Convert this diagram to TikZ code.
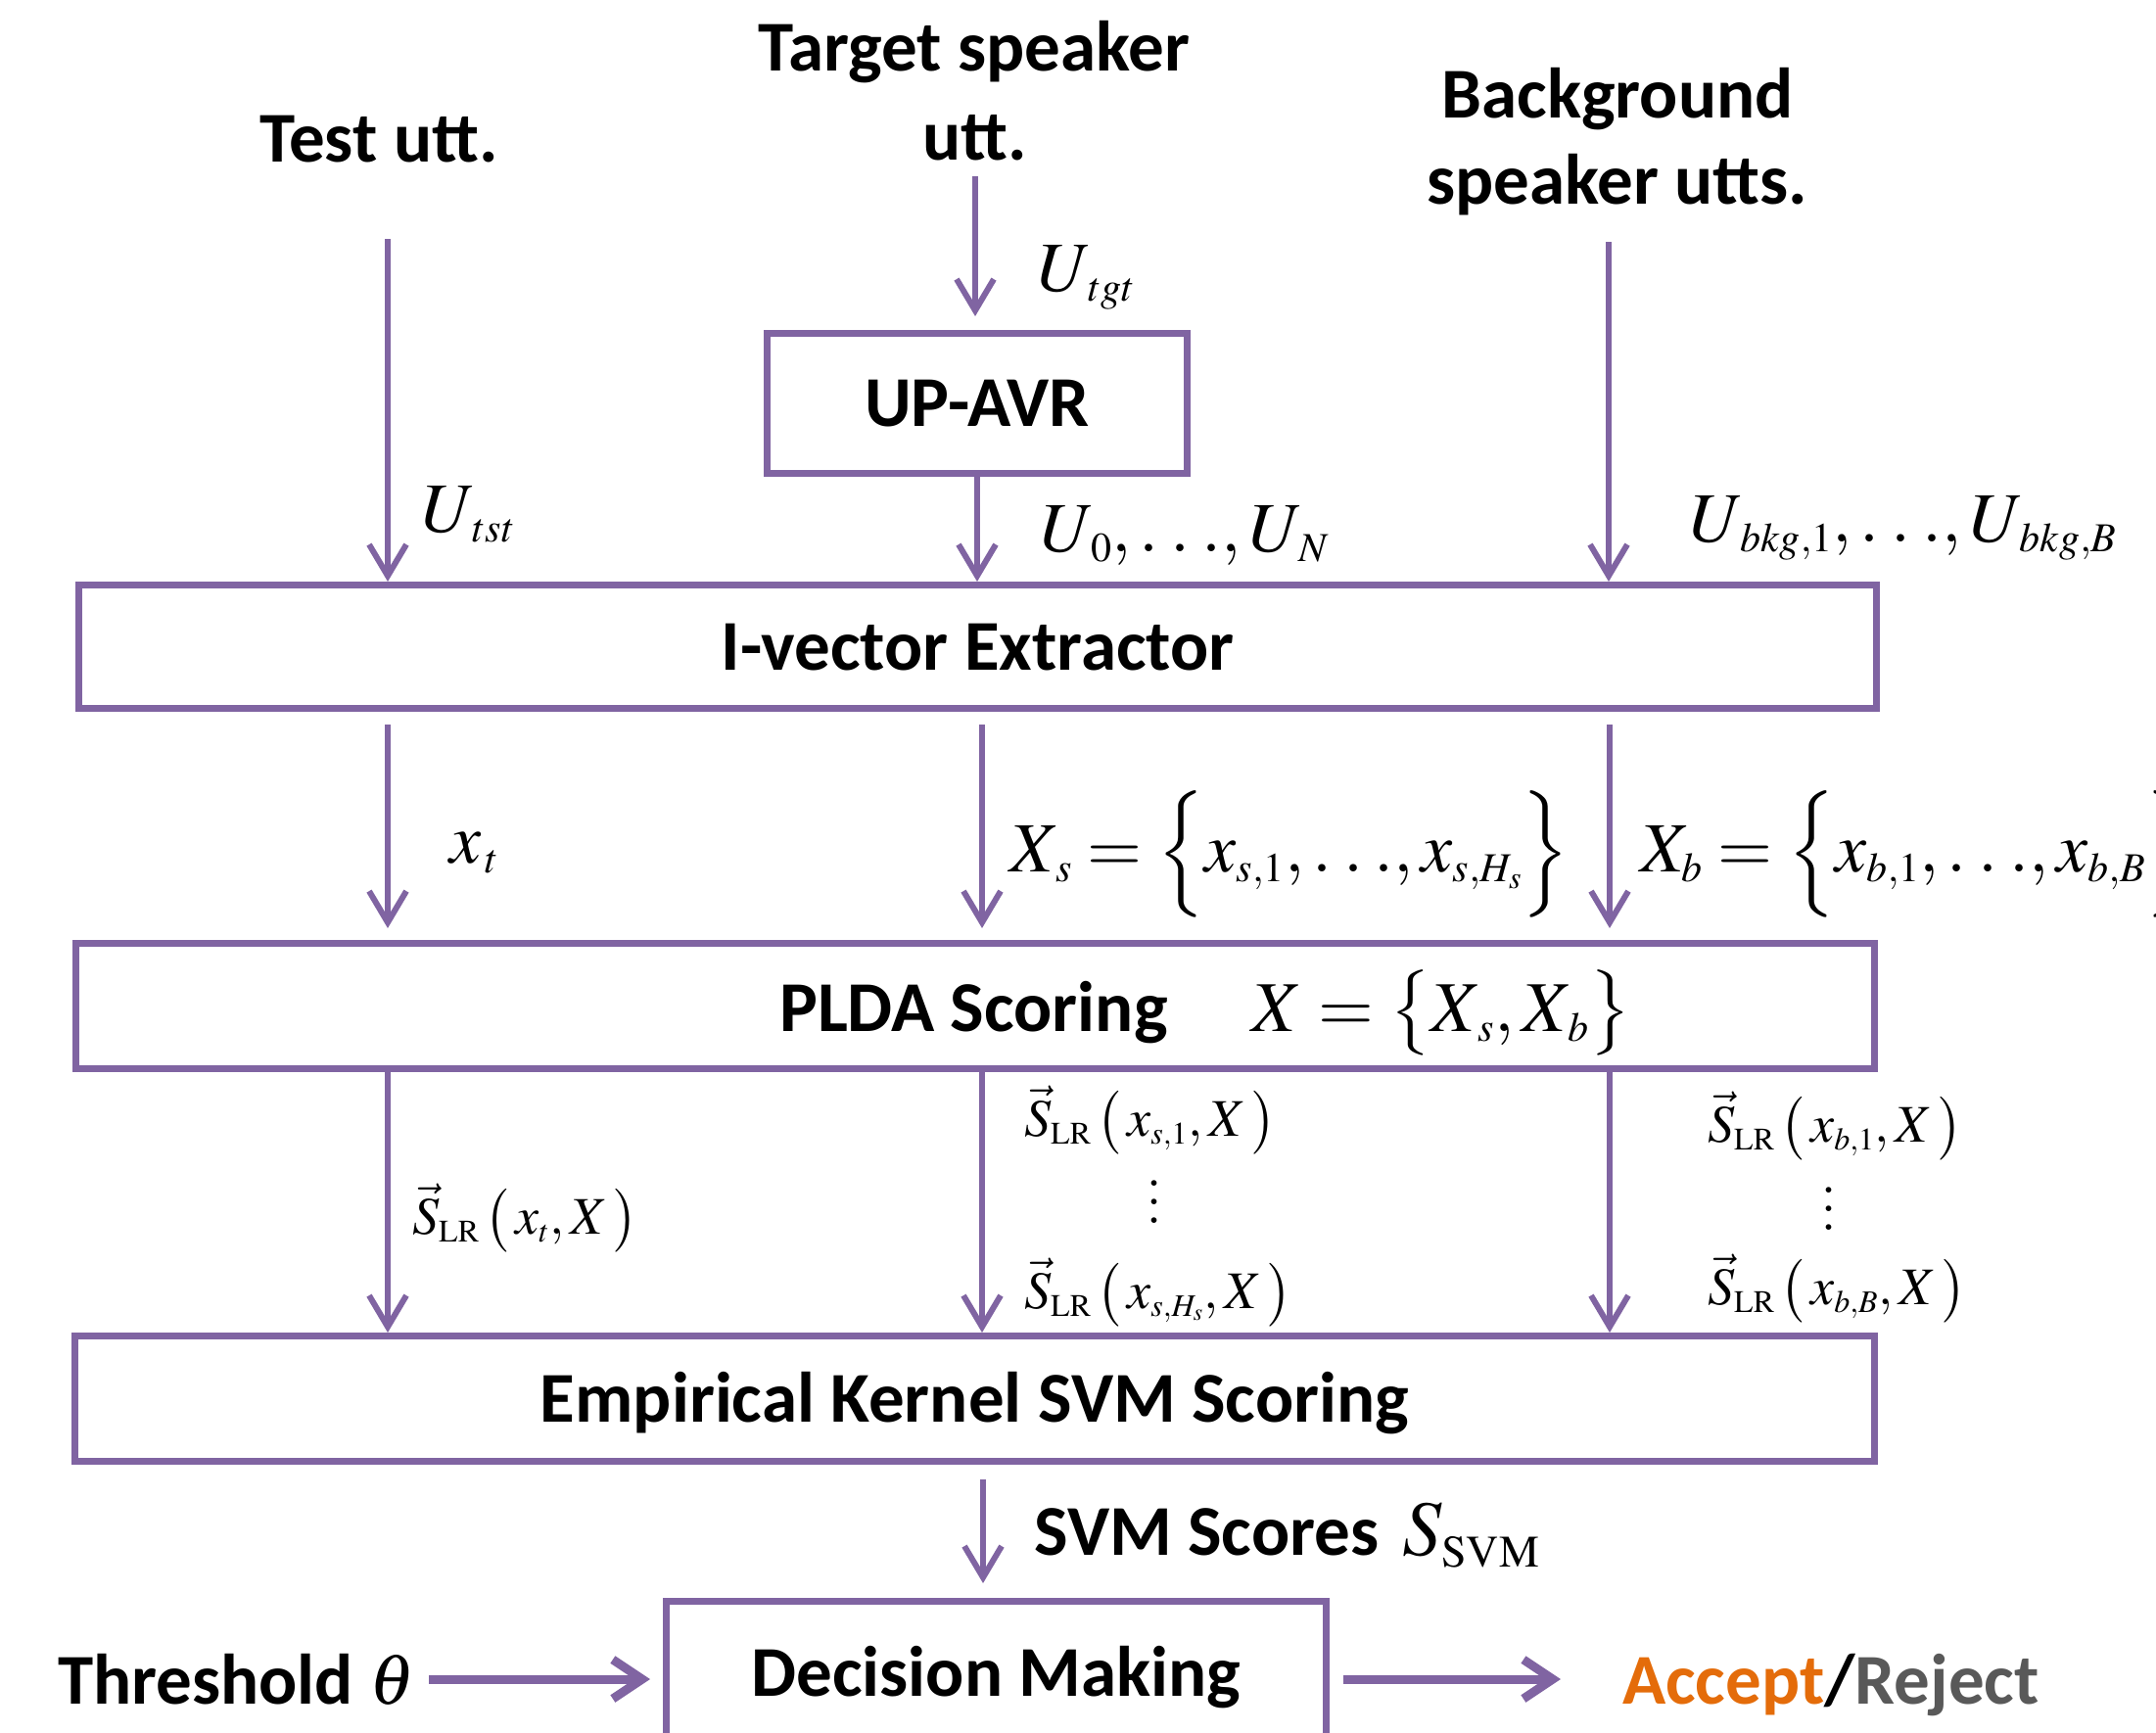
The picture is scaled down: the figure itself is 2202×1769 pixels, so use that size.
\documentclass[tikz,border=0pt]{standalone}
\usepackage{mathptmx}
\usepackage[no-math]{fontspec}
\setmainfont{Carlito}
\usetikzlibrary{arrows.meta,calc}
\definecolor{pur}{RGB}{128,100,162}
\definecolor{accC}{RGB}{228,108,10}
\definecolor{rejC}{RGB}{89,89,89}
\DeclareMathSizes{72}{72}{42}{32}
\DeclareMathSizes{73}{73}{42}{32}
\DeclareMathSizes{80}{80}{46}{34}
\DeclareMathSizes{54}{54}{32}{24}
\newcommand{\mydots}{\vbox{\baselineskip=19pt\lineskiplimit=-100pt\hbox{$.$}\hbox{$.$}\hbox{$.$}}}
\newcommand{\tdots}{{.\mkern3mu.\mkern3mu.}}
\newcommand{\slr}[1]{\vec{S}_{\mathrm{LR}}\,\bigl(\,#1,X\,\bigr)}
\begin{document}
\begin{tikzpicture}[x=1pt,y=-1pt,
  box/.style={draw=pur, line width=7pt, inner sep=0pt, font=\bfseries\fontsize{73}{88}\selectfont, text height=47pt, text depth=0pt},
  lbl/.style={inner sep=0pt, anchor=base, font=\bfseries\fontsize{73}{88}\selectfont},
  mlbl/.style={inner sep=0pt, anchor=base west, font=\fontsize{72}{86}\selectfont},
  slbl/.style={inner sep=0pt, anchor=base west, font=\fontsize{54}{64}\selectfont},
  arr/.style={draw=pur, line width=6pt, -{Straight Barb[length=32pt,width=38pt]}},
  tarr/.style={draw=pur, line width=9pt, -{Straight Barb[length=30pt,width=40pt]}}]
\useasboundingbox (0,0) rectangle (2202,1769);

% boxes
\node[box, minimum width=429pt, minimum height=143pt] (upavr) at (998,412) {UP-AVR};
\node[box, minimum width=1836pt, minimum height=126pt] (ivec) at (998.5,660.5) {I-vector Extractor};
\node[box, minimum width=1837pt, minimum height=128pt] (plda) at (996,1027.5) {};
\node[box, minimum width=1838pt, minimum height=128pt] (ek) at (995.5,1428.5) {Empirical Kernel SVM Scoring};
\node[box, minimum width=674pt, minimum height=146pt] (dec) at (1017.5,1708.5) {Decision Making};

% top labels
\node[lbl] (test) at (387,165) {Test utt.};
\node[lbl] (tgtA) at (995,73) {Target speaker};
\node[lbl] (tgtB) at (996,163) {utt.};
\node[lbl] (bgA) at (1652,120) {Background};
\node[lbl] (bgB) at (1652,208) {speaker utts.};

% math labels
\node[mlbl] (utgt) at (1060,297) {$U_{\,tgt}$};
\node[mlbl] (utst) at (431,543) {$U_{\,tst}$};
\node[mlbl] (uavr) at (1063,563) {$U_{\,0},\tdots,U_{\,N}$};
\node[mlbl] (ubkg) at (1726,553) {$U_{\,bkg{,}1},\tdots,U_{\,bkg{,}B}$};
\node[mlbl] (xt) at (459,881) {$x_{\,t}$};
\node[mlbl] (xs) at (1031,890) {$X_{\,s}=\Bigl\{x_{s{,}1},\tdots,x_{s{,}H_s}\Bigr\}$};
\node[mlbl] (xb) at (1675,890) {$X_{b}=\Bigl\{x_{b{,}1},\tdots,x_{b{,}B}\Bigr\}$};
\node[lbl, anchor=base west] (pltext) at (796,1053) {PLDA Scoring\hspace{86pt}$X=\bigl\{X_{\,s},X_{\,b}\bigr\}$};

\node[slbl] (sxt) at (421,1260) {$\slr{x_t}$};
\node[slbl] (ss1) at (1046,1160) {$\slr{x_{s{,}1}}$};
\node[slbl, anchor=center] (sdots) at (1179,1228) {\mydots};
\node[slbl] (ssh) at (1046,1336) {$\slr{x_{s{,}H_s}}$};
\node[slbl] (sb1) at (1744,1166) {$\slr{x_{b{,}1}}$};
\node[slbl, anchor=center] (bdots) at (1868,1235) {\mydots};
\node[slbl] (sbB) at (1744,1332) {$\slr{x_{b{,}B}}$};

\node[lbl, anchor=base west] (svmlbl) at (1056,1588) {SVM Scores\hspace{24pt}{\fontsize{80}{90}\selectfont$S_{\mathrm{SVM}}$}};
\node[lbl, anchor=base west] (thr) at (59,1740) {Threshold $\theta$};
\node[lbl, anchor=base west] (acc) at (1657,1740) {\color{accC}Accept\color{black}/\color{rejC}Reject};

% arrows into I-vector extractor
\coordinate (tst0) at (396,244);
\coordinate (tgt0) at (996,180);
\coordinate (bkg0) at (1643,247);
\draw[arr] (tst0) -- (tst0 |- ivec.north);
\draw[arr] (tgt0) -- ($(tgt0 |- upavr.north)+(0,-14)$);
\draw[arr] (upavr.south) -- (upavr.south |- ivec.north);
\draw[arr] (bkg0) -- (bkg0 |- ivec.north);

% arrows between stages
\foreach \x/\n in {396/a,1003/b,1644/c}{
  \coordinate (m\n) at (\x,0);
  \draw[arr] ($(m\n |- ivec.south)+(0,13)$) -- ($(m\n |- plda.north)+(0,-12)$);
  \draw[arr] (m\n |- plda.south) -- (m\n |- ek.north);
}
\coordinate (md) at (1004,0);
\draw[arr] ($(md |- ek.south)+(0,15)$) -- ($(md |- dec.north)+(0,-15)$);

% horizontal arrows
\coordinate (thr0) at (438,1715);
\coordinate (out0) at (1372,1715);
\draw[tarr] (thr0) -- ($(thr0 -| dec.west)+(-13,0)$);
\draw[tarr] (out0) -- ($(out0 -| acc.west)+(-63,0)$);
\end{tikzpicture}
\end{document}
